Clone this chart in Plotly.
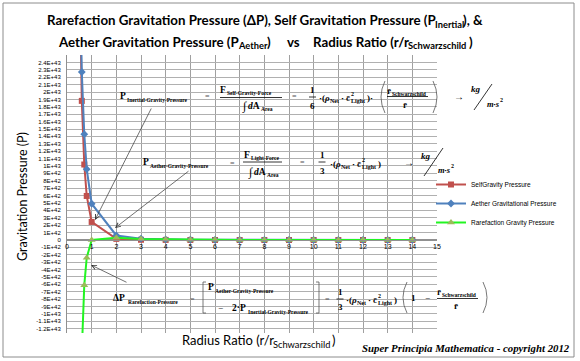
import plotly.graph_objects as go

# ---------------- data ----------------
radius_ratio = [0.5, 0.6, 0.7, 0.8, 1, 2, 3, 4, 5, 6, 7, 8, 9, 10, 11, 12, 13, 14]
self_gravity = [3.9e43, 1.88e43, 1.02e43, 5.95e42, 2.44e42, 1.5e41, 3.0e40, 9.5e39,
                3.9e39, 1.9e39, 1.0e39, 6.0e38, 3.7e38, 2.4e38, 1.7e38, 1.2e38, 8.5e37, 6.4e37]
aether_gravity = [3.92e43, 2.27e43, 1.43e43, 9.57e42, 4.9e42, 6.1e41, 1.8e41, 7.7e40,
                  3.9e40, 2.3e40, 1.4e40, 9.6e39, 6.7e39, 4.9e39, 3.7e39, 2.8e39, 2.2e39, 1.8e39]
rarefaction = [-3.92e43, -1.51e43, -6.1e42, -2.39e42, 0.0, 3.1e41, 1.2e41, 5.8e40,
               3.1e40, 1.9e40, 1.2e40, 8.4e39, 6.0e39, 4.4e39, 3.4e39, 2.6e39, 2.0e39, 1.6e39]

series_names = ["SelfGravity Pressure", "Aether Gravitational Pressure", "Rarefaction Gravity Pressure"]

y_tick_steps = list(range(-12, 25))
y_tick_labels = ["-1.2E+43", "-1.1E+43", "-1E+43", "-9E+42", "-8E+42", "-7E+42", "-6E+42",
                 "-5E+42", "-4E+42", "-3E+42", "-2E+42", "-1E+42", "0", "1E+42", "2E+42",
                 "3E+42", "4E+42", "5E+42", "6E+42", "7E+42", "8E+42", "9E+42", "1E+43",
                 "1.1E+43", "1.2E+43", "1.3E+43", "1.4E+43", "1.5E+43", "1.6E+43", "1.7E+43",
                 "1.8E+43", "1.9E+43", "2E+43", "2.1E+43", "2.2E+43", "2.3E+43", "2.4E+43"]
y_tick_vals = [k * 1e42 for k in y_tick_steps]
y_min, y_max = -1.257e43, 2.5e43

# ---------------- layout helpers ----------------
W, H = 580, 361
PX0, PX1, PY0, PY1 = 67, 437, 55, 333


def fx(p):
    return (p - PX0) / (PX1 - PX0)


def fy(p):
    return 1 - (p - PY0) / (PY1 - PY0)


annotations = []
shapes = []


def txt(x, y, s, size=9.5, anchor='center', family='Liberation Serif', color='#000', bold=True, angle=0):
    if bold:
        s = '<b>' + s + '</b>'
    annotations.append(dict(x=fx(x), y=fy(y), xref='paper', yref='paper', text=s, showarrow=False,
                            xanchor=anchor, yanchor='middle', textangle=angle, borderpad=0,
                            font=dict(family=family, size=size, color=color)))


def sub(x, y, t, size=5.5):
    txt(x, y, t, size, 'left')


def line(x0, y0, x1, y1, w=0.8, color='#000'):
    shapes.append(dict(type='line', xref='paper', yref='paper', x0=fx(x0), y0=fy(y0),
                       x1=fx(x1), y1=fy(y1), line=dict(color=color, width=w)))


def paren(x, y0, y1, bulge):
    xm = x + bulge
    shapes.append(dict(type='path', xref='paper', yref='paper',
                       path="M %f,%f Q %f,%f %f,%f" % (fx(x), fy(y0), fx(xm), fy((y0 + y1) / 2), fx(x), fy(y1)),
                       line=dict(color='#555', width=0.8)))


def bracket(x, y0, y1, d):
    shapes.append(dict(type='path', xref='paper', yref='paper',
                       path="M %f,%f L %f,%f L %f,%f L %f,%f" % (fx(x + d), fy(y0), fx(x), fy(y0), fx(x), fy(y1), fx(x + d), fy(y1)),
                       line=dict(color='#555', width=0.8)))


def arrow(xh, yh, xt, yt):
    annotations.append(dict(x=fx(xh), y=fy(yh), xref='paper', yref='paper', text='',
                            showarrow=True, ax=xt - xh, ay=yt - yh, arrowhead=5, arrowsize=1.3,
                            arrowwidth=0.7, arrowcolor='#333'))


def integral(x, y):
    txt(x, y, '∫', 12, bold=False)
    txt(x + 2.5, y, '<i>d</i>A', 9.5, 'left')
    sub(x + 15, y + 3, 'Area')


def rho(x0, y, trailing=False):
    txt(x0, y, '·(<i>ρ</i>', 9, 'left')
    sub(x0 + 11, y + 3, 'Net', 6)
    txt(x0 + 22, y, '·', 9, 'left')
    txt(x0 + 27, y, 'c̄', 9, 'left')
    txt(x0 + 32, y - 4, '2', 6, 'left')
    sub(x0 + 32, y + 3, 'Light', 6)
    txt(x0 + 48, y, ')' + ('·' if trailing else ''), 9, 'left')


def units(x_kg, y_kg, x_m, y_m, slash):
    txt(x_kg, y_kg, '<i>kg</i>', 9)
    line(*slash)
    txt(x_m, y_m, '<i>m·s</i>', 8.5, 'left')
    txt(x_m + 13, y_m - 4, '2', 6, 'left')


# ---- equation 1 ----
txt(119, 96, 'P', 9.5, 'left')
sub(126, 100, 'Inertial-Gravity-Pressure')
txt(207, 96, '=', 8, bold=False, color='#555')
txt(219, 90, 'F', 9.5, 'left')
sub(226, 93, 'Self-Gravity-Force')
line(220, 97.5, 282, 97.5)
integral(244.5, 106)
txt(294, 96, '=', 8, bold=False, color='#555')
txt(312.5, 89.5, '1', 9)
line(309, 97, 316, 97)
txt(312.5, 105.5, '6', 9)
rho(318, 98, trailing=True)
paren(385, 81, 113, -8)
paren(433, 81, 113, 8)
txt(386, 91, 'r̄', 9, 'left')
sub(391, 93.5, 'Schwarzschild')
line(387, 96.5, 428, 96.5)
txt(405, 105, 'r̄', 9)
txt(459, 97, '→', 10, bold=False)
units(476, 89, 486, 104, (474, 110, 492, 84))

# ---- equation 2 ----
txt(142, 162, 'P', 9.5, 'left')
sub(149, 166, 'Aether-Gravity-Pressure')
txt(232, 163, '=', 8, bold=False, color='#555')
txt(243, 155, 'F', 9.5, 'left')
sub(250, 158, 'Light-Force')
line(243, 162, 282, 162)
integral(250.5, 171.5)
txt(302, 162, '=', 8, bold=False, color='#555')
txt(322, 155, '1', 9)
line(318.5, 162, 325.5, 162)
txt(322, 171, '3', 9)
rho(329, 164)
txt(409, 162, '→', 10, bold=False)
units(426, 156, 437, 170, (424, 176, 443, 148))

# ---- equation 3 ----
txt(112, 298, 'ΔP', 9.5, 'left')
sub(127, 302, 'Rarefaction-Pressure')
txt(192, 299, '=', 8, bold=False, color='#555')
bracket(203, 282, 313, 3)
bracket(319, 282, 313, -3)
txt(207, 287, 'P', 9.5, 'left')
sub(214, 291, 'Aether-Gravity-Pressure')
txt(220, 308, '−', 9, bold=False)
txt(231, 308, '2·P', 9.5, 'left')
sub(247, 311.5, 'Inertial-Gravity-Pressure')
txt(327, 299, '=', 8, bold=False, color='#555')
txt(340, 291.5, '1', 9)
line(336.5, 299, 343.5, 299)
txt(340, 306.5, '3', 9)
rho(345, 300)
paren(407, 282, 313, -8)
paren(483, 282, 313, 8)
txt(413, 298, '1', 9)
txt(427, 298, '−', 9, bold=False)
txt(436, 292, 'r̄', 9, 'left')
sub(441, 294.5, 'Schwarzschild')
line(437, 298.5, 478, 298.5)
txt(456, 306, 'r̄', 9)

# ---- arrows ----
arrow(95, 220, 152, 107)
arrow(115, 228, 190, 170)
arrow(91, 265, 128, 283)

# ---- titles ----
TF, TS = 13.3, 9.3
txt(437, 20, 'Rarefaction Gravitation Pressure (ΔP), Self Gravitation Pressure (P', TF, 'right', 'Lato')
txt(433.5, 24, 'Inertial', TS, 'left', 'Lato')
txt(461.5, 20, '), &', TF, 'left', 'Lato')
txt(240, 42, 'Aether Gravitation Pressure (P', TF, 'right', 'Lato')
txt(236.5, 46, 'Aether', TS, 'left', 'Lato')
txt(266, 42, ')', TF, 'left', 'Lato')
txt(286, 42, 'vs', TF, 'left', 'Lato')
txt(410, 42, 'Radius Ratio (r/r', TF, 'right', 'Lato')
txt(406.5, 46, 'Schwarzschild', TS, 'left', 'Lato')
txt(467.5, 42, ')', TF, 'left', 'Lato')

txt(22, 197, 'Gravitation Pressure (P)', 12.5, family='Lato', bold=False, angle=-90)
txt(275, 340, 'Radius Ratio (r/r', 13, 'right', 'Lato', bold=False)
txt(271.5, 344, 'Schwarzschild', 9.3, 'left', 'Lato', bold=False)
txt(330.5, 340, ')', 13, 'left', 'Lato', bold=False)
txt(571, 348, '<i>Super Principia Mathematica - copyright 2012</i>', 10.8, 'right')

# outer border
shapes.append(dict(type='rect', xref='paper', yref='paper', x0=fx(3), y0=fy(3), x1=fx(574), y1=fy(357),
                   line=dict(color='#8c8c8c', width=1), layer='below'))

# ---------------- traces ----------------
fig = go.Figure()
fig.add_trace(go.Scatter(x=radius_ratio, y=self_gravity, name=series_names[0], mode='lines+markers',
                         line=dict(color='#C0504D', width=2),
                         marker=dict(symbol='square', size=6, color='#C0504D')))
fig.add_trace(go.Scatter(x=radius_ratio, y=aether_gravity, name=series_names[1], mode='lines+markers',
                         line=dict(color='#4F81BD', width=2),
                         marker=dict(symbol='diamond', size=6, color='#4F81BD')))
fig.add_trace(go.Scatter(x=radius_ratio, y=rarefaction, name=series_names[2], mode='lines+markers',
                         line=dict(color='#22F522', width=2),
                         marker=dict(symbol='triangle-up', size=7, color='#9BBB59')))

zero_pos = (0 - y_min) / (y_max - y_min)

fig.update_layout(
    width=W, height=H,
    margin=dict(l=PX0, r=W - PX1, t=PY0, b=H - PY1, autoexpand=False),
    paper_bgcolor='white', plot_bgcolor='white',
    font=dict(family='Liberation Sans', color='#000'),
    showlegend=True,
    legend=dict(x=fx(431), y=fy(170), xanchor='left', yanchor='top',
                font=dict(size=6.5, family='Liberation Sans', color='#000'),
                bgcolor='rgba(0,0,0,0)', itemwidth=30, tracegroupgap=0),
    xaxis=dict(range=[0, 15], tick0=0, dtick=1, showgrid=True, gridcolor='#a0a0a0', gridwidth=1,
               anchor='free', position=zero_pos, showline=True, linecolor='#909090', linewidth=1,
               ticks='', zeroline=False, tickfont=dict(size=7, family='Liberation Sans')),
    yaxis=dict(range=[y_min, y_max], tickmode='array', tickvals=y_tick_vals, ticktext=y_tick_labels,
               showgrid=True, gridcolor='#b0b0b0', gridwidth=1, showline=True, linecolor='#909090',
               zeroline=True, zerolinecolor='#909090', zerolinewidth=1, ticks='',
               ticklabelstandoff=4, tickfont=dict(size=6, family='Liberation Sans')),
    annotations=annotations,
    shapes=shapes,
)

fig.write_html("out.html", config={'displayModeBar': False},
               post_script="document.body.style.margin='0';document.body.style.overflow='hidden';")
